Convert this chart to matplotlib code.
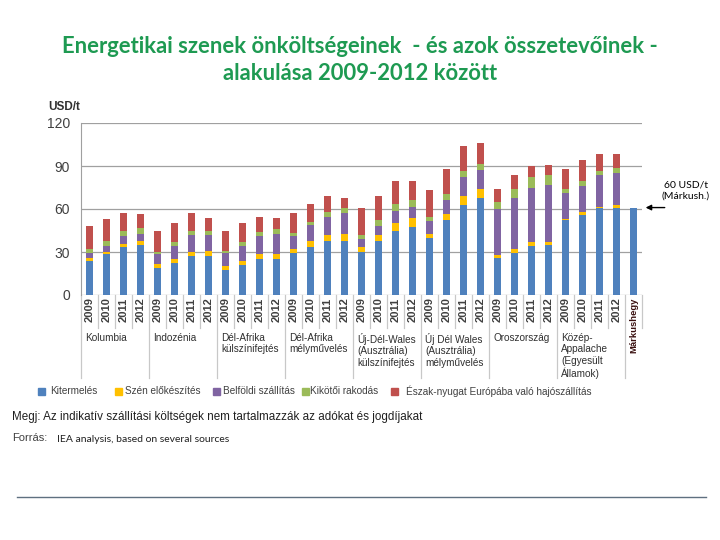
import matplotlib
matplotlib.use("Agg")
import matplotlib.pyplot as plt
import numpy as np
from matplotlib.patches import Rectangle
from matplotlib.lines import Line2D

plt.rcParams['font.family'] = ['Liberation Sans', 'DejaVu Sans']

# ---- data (USD/t) ----
groups = ["Kolumbia", "Indozénia", "Dél-Afrika\nkülszínifejtés", "Dél-Afrika\nmélyművelés",
          "Új-Dél-Wales\n(Ausztrália)\nkülszínifejtés", "Új Dél Wales\n(Ausztrália)\nmélyművelés",
          "Oroszország", "Közép-\nAppalache\n(Egyesült\nÁllamok)"]
years = ["2009", "2010", "2011", "2012"]
last_label = "Márkushegy"

# cumulative tops per bar -> converted to segment heights below
top_mining = [24, 28.4, 33.6, 35.2, 19.1, 22.6, 27, 27.5, 17.7, 21.2, 25.4, 25.4,
              29.4, 33.6, 38, 38, 29.8, 38, 45, 47.3, 40.1, 52, 62.9, 67.6,
              26.1, 29.6, 34.3, 35.2, 52, 55.9, 60.6, 60.6, 61]
top_prep = [25.6, 29.8, 35.9, 38, 21.4, 25.2, 30, 31, 20.3, 24, 28.7, 28.7,
            32.4, 38, 42, 42.7, 33.6, 42, 50.3, 53.4, 42.9, 56.6, 69.2, 73.9,
            27.7, 32.2, 37, 37.3, 52.9, 57.8, 61.1, 62.9, 61]
top_inland = [29.4, 34.5, 41.3, 42.7, 28.4, 34.5, 42.2, 42.2, 29.6, 34.5, 41.5, 42.9,
              41.3, 48.5, 54.5, 56.9, 39.2, 48.3, 58.7, 61.5, 51.3, 66.4, 82, 87.4,
              60.1, 68, 75, 76.9, 71.3, 76.2, 83.4, 85.3, 61]
top_port = [32.4, 38, 44.5, 46.6, 30, 37, 44.5, 44.5, 31, 37, 44.3, 45.7,
            43.1, 50.6, 58, 60.6, 42, 52.2, 63.4, 66.2, 54.5, 70.4, 86.7, 91.4,
            64.8, 73.9, 82.5, 83.9, 74.1, 79.7, 86.2, 88.3, 61]
top_ship = [48.3, 52.9, 56.9, 56.2, 44.5, 50.1, 56.9, 53.8, 44.5, 50.1, 54.5, 53.6,
            56.9, 63.6, 69, 68, 60.6, 69.2, 79.7, 79.7, 73.4, 88, 103.7, 106,
            73.9, 83.9, 90.2, 90.9, 88, 94.2, 98.6, 98.6, 61]

series_names = ["Kitermelés", "Szén előkészítés", "Belföldi szállítás", "Kikötői rakodás",
                "Észak-nyugat Európába való hajószállítás"]
colors = ["#4F81BD", "#FFC000", "#8064A2", "#9BBB59", "#C0504D"]

tops = np.array([top_mining, top_prep, top_inland, top_port, top_ship])
heights = np.diff(np.vstack([np.zeros(tops.shape[1]), tops]), axis=0)

fig = plt.figure(figsize=(7.2, 5.4), dpi=100)
ax = fig.add_axes([81/720, 1-295/540, 561/720, 172/540])

x = np.arange(tops.shape[1])
bottom = np.zeros(len(x))
for h, c in zip(heights, colors):
    ax.bar(x, h, bottom=bottom, width=0.46, color=c, linewidth=0, zorder=3)
    bottom += h

ax.set_xlim(-0.5, len(x) - 0.5)
ax.set_ylim(0, 120)
ax.set_yticks([0, 30, 60, 90, 120])
ax.tick_params(axis='y', length=0, labelsize=10, labelcolor="#404040", pad=8)
ax.set_xticks([])
ax.grid(axis='y', color="#A0A0A0", linewidth=0.9, zorder=0)
for s in ["top", "right", "bottom"]:
    ax.spines[s].set_visible(False)
ax.spines["left"].set_color("#A0A0A0")

# category axis: year labels, separators, group names
trans = ax.get_xaxis_transform()
for i in range(len(x) - 1):
    ax.text(i, -0.015, years[i % 4], rotation=90, ha='center', va='top', fontsize=8,
            fontweight='bold', color="#404040", transform=trans)
ax.text(len(x) - 1, -0.015, last_label, rotation=90, ha='center', va='top', fontsize=6.8,
        fontweight='bold', color="#3a1010", transform=trans)
for i in range(len(x) + 1):
    b = i - 0.5
    depth = -0.485 if (i % 4 == 0 and i < len(x)) else -0.19
    ax.add_line(Line2D([b, b], [0, depth], color="#C8C8C8", linewidth=0.9,
                       transform=trans, clip_on=False))
for g, name in enumerate(groups):
    ax.text(g * 4 - 0.25, -0.22, name, ha='left', va='top', fontsize=7.2,
            color="#303030", linespacing=1.2, transform=trans)

# unit label
fig.text(48/720, 1-107/540, "USD/t", fontsize=8.5, fontweight='bold', color="#303030",
         va='center')

# right annotation
fig.text(686/720, 1-191/540, "60 USD/t\n(Márkush.)", fontsize=7.5, ha='center', va='center',
         family=['Lato', 'DejaVu Sans'], linespacing=1.3)
ax.annotate("", xy=(len(x) - 1 + 0.55, 61), xytext=(len(x) - 1 + 2.0, 61),
            arrowprops=dict(arrowstyle='-|>', color='black', lw=1.0, mutation_scale=8),
            annotation_clip=False)

# title
fig.text(360/720, 1-60/540,
         "Energetikai szenek önköltségeinek  - és azok összetevőinek -\nalakulása 2009-2012 között",
         ha='center', va='center', fontsize=15.8, color="#1E9A52", fontweight='bold',
         family=['Lato', 'DejaVu Sans'], linespacing=1.3)

# legend
leg_x = [38, 115, 213, 302, 391]
leg_gap = [12, 10, 10, 8, 15]
for lx, gap, name, c in zip(leg_x, leg_gap, series_names, colors):
    fig.patches.append(Rectangle((lx/720, 1-395/540), 7/720, 7/540, color=c,
                                 transform=fig.transFigure))
    fig.text((lx + gap)/720, 1-391.5/540, name, fontsize=7.2, va='center', color="#404040")

# notes
fig.text(12/720, 1-417/540, "Megj: Az indikatív szállítási költségek nem tartalmazzák az adókat és jogdíjakat",
         fontsize=8.4, va='center', color="#202020")
fig.text(12/720, 1-438/540, "Forrás:", fontsize=8, va='center', color="#404040")
fig.text(57/720, 1-439/540, "IEA analysis, based on several sources", fontsize=7.5,
         va='center', color="#202020", family=['Lato', 'DejaVu Sans'])

fig.add_artist(Line2D([17/720, 706/720], [1-497/540, 1-497/540], color="#5F7080",
                      linewidth=1.0, transform=fig.transFigure))

fig.savefig("out.png", dpi=100)
